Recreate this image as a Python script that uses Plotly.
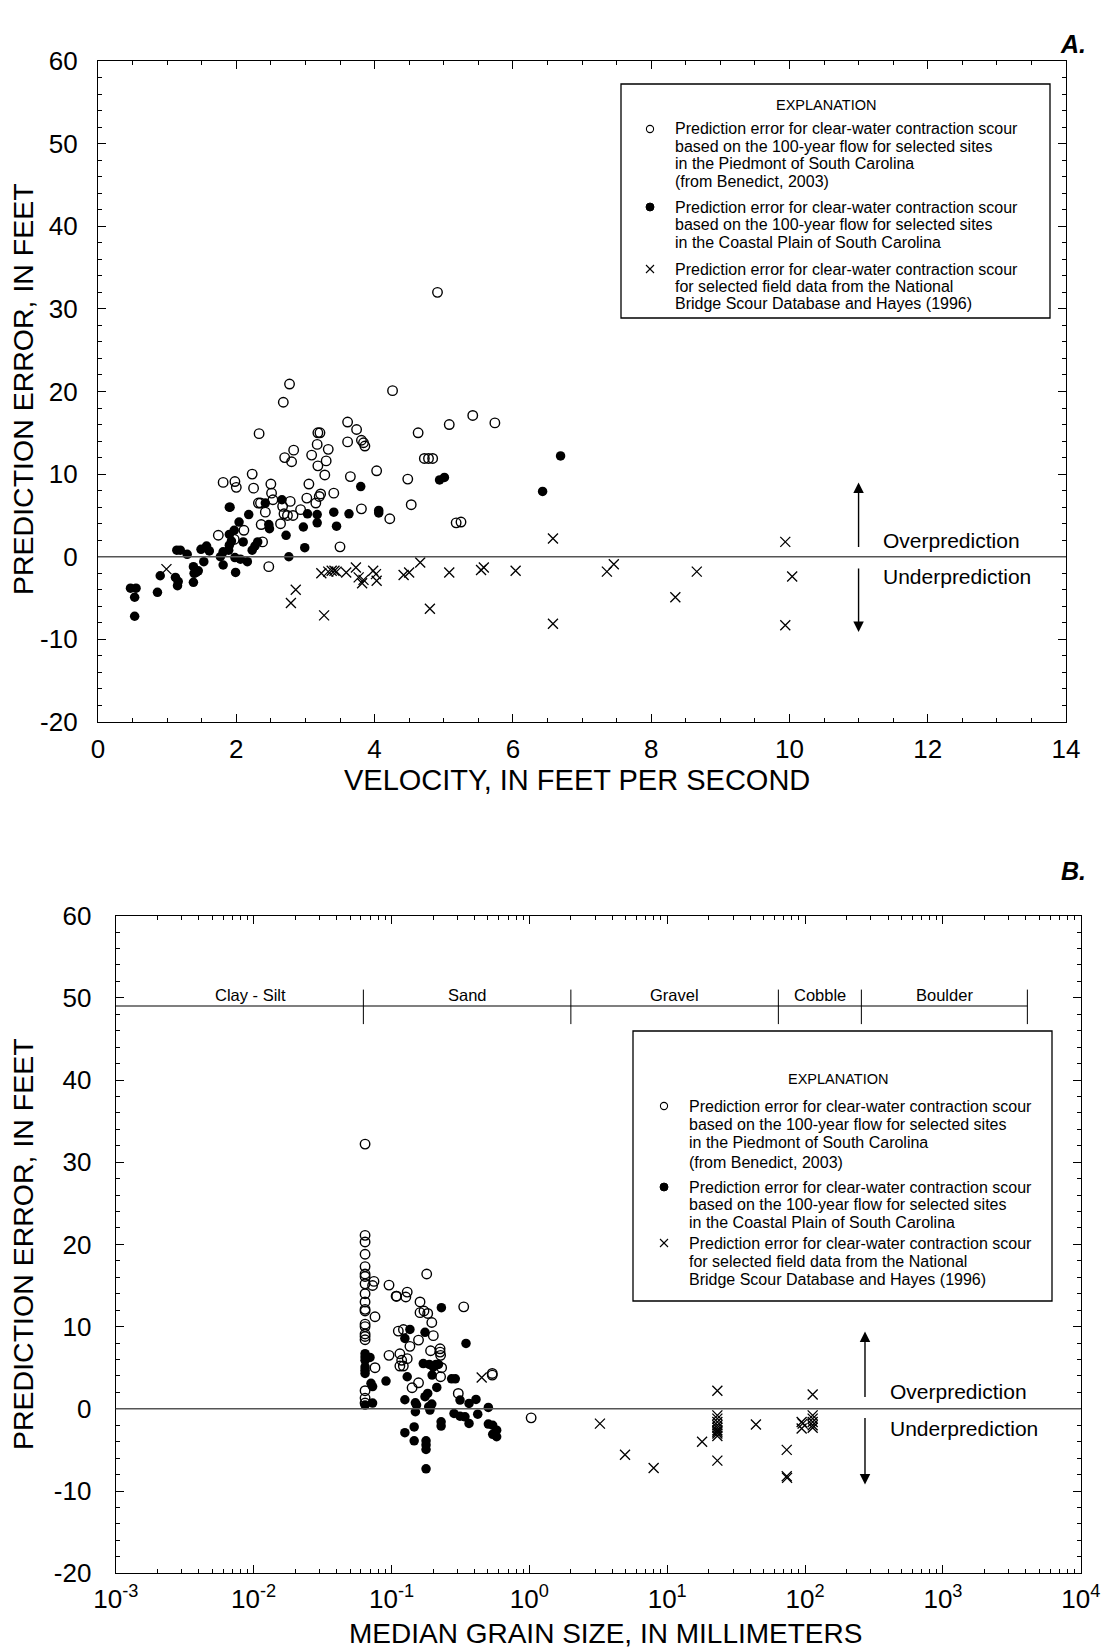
import math
import plotly.graph_objects as go

W, H = 1104, 1650
FONT = "Liberation Sans, Arial, Helvetica, sans-serif"

# ---------------- Panel A data (velocity, ft/s ; prediction error, ft) ----------------
pied_vel = [2.77, 2.68, 4.26, 2.33, 3.61, 3.74, 3.18, 3.21, 3.61, 3.81, 3.86, 3.84, 4.63,
            4.72, 4.78, 4.84, 2.83, 2.70, 2.80, 3.17, 3.33, 3.09, 3.30, 3.18, 3.28, 4.03,
            3.65, 4.48, 4.53, 2.23, 1.81, 1.98, 2.00, 2.25, 2.50, 3.05, 2.51, 2.53, 2.32,
            2.35, 2.78, 2.67, 2.42, 2.69, 2.74, 2.82, 2.93, 3.02, 3.15, 3.20, 3.22, 3.41,
            3.81, 4.22, 3.50, 2.36, 2.64, 1.74, 2.11, 1.97, 2.38, 2.47,
            4.91, 5.08, 5.42, 5.74, 5.18, 5.25]
pied_err_a = [20.9, 18.7, 20.1, 14.9, 16.3, 15.4, 15.0, 15.0, 13.9, 14.1, 13.4, 13.8, 15.0,
              11.9, 11.9, 11.9, 12.9, 12.0, 11.5, 13.6, 13.0, 12.3, 11.6, 11.0, 9.9, 10.4,
              9.7, 9.4, 6.3, 10.0, 9.0, 9.1, 8.4, 8.3, 8.8, 8.8, 7.7, 6.9, 6.5,
              6.5, 6.7, 6.1, 5.4, 5.2, 5.0, 5.0, 5.7, 7.1, 6.5, 7.3, 7.6, 7.7,
              5.8, 4.6, 1.2, 3.9, 4.0, 2.6, 3.2, 2.1, 1.8, -1.2,
              32.0, 16.0, 17.1, 16.2, 4.1, 4.2]

coast_vel = [0.47, 0.55, 0.53, 0.53, 0.86, 0.90, 1.12, 1.16, 1.15, 1.14, 1.19, 1.29, 1.38,
             1.42, 1.45, 1.39, 1.38, 1.53, 1.49, 1.57, 1.61, 1.77, 1.81, 1.81, 1.89, 1.90,
             1.93, 1.99, 1.98, 2.06, 2.16, 1.90, 1.91, 1.90, 1.97, 2.04, 2.10, 2.18, 2.23,
             2.27, 2.31, 2.42, 2.47, 2.48, 2.66, 2.72, 2.76, 2.97, 2.99, 3.03, 3.17, 3.17,
             3.41, 3.45, 3.63, 3.80, 4.06, 4.06, 4.94, 5.01, 6.43, 6.69]
coast_err_a = [-3.8, -3.8, -4.9, -7.2, -4.3, -2.3, -2.5, -3.0, -3.5, 0.8, 0.8, 0.3, -1.2,
               -1.9, -1.7, -2.0, -3.1, -0.6, 0.9, 1.3, 0.7, 0.0, -1.0, 0.6, 0.8, 1.4,
               1.9, -1.9, -0.1, -0.3, -0.6, 6.0, 6.0, 2.7, 3.2, 4.2, 1.8, 5.1, 0.8,
               1.3, 1.8, 6.5, 3.9, 3.4, 6.9, 2.6, 0.0, 3.6, 1.1, 5.2, 5.1, 4.1,
               5.4, 3.7, 5.2, 8.5, 5.6, 5.3, 9.3, 9.6, 7.9, 12.2]

nbs_vel = [0.99, 2.86, 2.79, 3.27, 3.23, 3.33, 3.38, 3.42, 3.45, 3.59, 3.73, 3.77, 3.84,
           3.82, 3.98, 4.02, 4.03, 4.42, 4.50, 4.66, 4.80, 5.08, 5.54, 5.58, 6.04, 6.58,
           6.58, 7.36, 7.46, 8.35, 8.66, 9.94, 10.04, 9.94]
nbs_err_a = [-1.5, -4.0, -5.6, -7.1, -2.0, -1.8, -1.7, -1.7, -1.8, -1.9, -1.3, -2.5, -2.8,
             -3.2, -1.7, -2.1, -2.9, -2.2, -1.9, -0.7, -6.3, -1.9, -1.6, -1.3, -1.7, 2.2,
             -8.1, -1.8, -0.9, -4.9, -1.8, 1.8, -2.4, -8.3]

# ---------------- Panel B data (median grain size, mm ; prediction error, ft) ----------------
pied_d50 = [0.0643] * 20 + [
    0.0746, 0.0729, 0.0759, 0.0759, 0.0959, 0.108, 0.109, 0.127, 0.130, 0.161, 0.180,
    0.161, 0.172, 0.183, 0.196, 0.201, 0.112, 0.122, 0.157, 0.136, 0.192, 0.225, 0.225,
    0.227, 0.115, 0.0959, 0.130, 0.1185, 0.1218, 0.115, 0.231, 0.227, 0.141, 0.157,
    0.305, 0.334, 0.538, 0.538, 1.03]
pied_err_b = [32.2, 21.1, 20.3, 18.8, 17.3, 16.4, 16.1, 15.2, 14.0, 13.0, 12.1, 11.9, 10.3,
              10.0, 9.1, 8.8, 8.4, 2.2, 1.3, 0.7,
              15.5, 15.0, 11.2, 5.0, 15.05, 13.7, 13.7, 13.6, 14.2, 13.0, 16.4,
              11.7, 11.9, 11.6, 10.5, 8.9, 9.45, 9.65, 8.36, 7.6, 7.06, 7.3, 6.9,
              6.5, 6.7, 6.5, 6.1, 5.9, 5.2, 5.2, 5.0, 3.9, 2.56, 3.16,
              1.87, 12.4, 4.3, 4.1, -1.1]

coast_d50 = [0.0643] * 7 + [0.0698, 0.071, 0.0729, 0.0729,
             0.230, 0.136, 0.125, 0.175, 0.347, 0.170, 0.188, 0.210, 0.201, 0.219, 0.197,
             0.130, 0.0912, 0.213, 0.183, 0.175, 0.125, 0.149, 0.152, 0.186, 0.196, 0.190,
             0.149, 0.273, 0.290, 0.314, 0.365, 0.410, 0.504, 0.284, 0.314, 0.341, 0.365,
             0.422, 0.229, 0.229, 0.504, 0.542, 0.579, 0.542, 0.579, 0.146, 0.125, 0.146,
             0.178, 0.178, 0.178, 0.178]
coast_err_b = [6.7, 6.3, 5.9, 5.1, 4.7, 4.3, 0.45, 6.25, 3.1, 2.7, 0.7,
               12.3, 9.65, 8.56, 9.3, 7.95, 5.5, 5.4, 5.4, 5.1, 5.4, 4.1,
               3.9, 3.37, 2.6, 1.87, 1.47, 1.1, 0.73, 0.45, 0.25, 0.57, -0.16,
               -0.36, 3.65, 3.65, 1.06, 0.65, 1.14, 0.17, -0.57, -0.9, -0.97, -1.78,
               -0.65, -1.58, -2.1, -1.86, -2.0, -2.6, -3.1, -3.4, -2.2, -2.9, -3.9,
               -3.9, -4.4, -4.95, -7.3]

nbs_d50 = [0.451, 3.25, 4.94, 7.97, 17.9] + [23.1] * 11 + [44.0, 73.6, 73.6, 74.0,
           94.4, 96.0, 94.4] + [113.5] * 6
nbs_err_b = [3.8, -1.8, -5.6, -7.2, -4.0,
             2.2, -0.8, -1.2, -1.6, -2.0, -2.3, -2.6, -2.8, -3.0, -3.3, -6.3,
             -1.9, -5.0, -8.2, -8.4, -1.6, -1.8, -2.4,
             1.75, -0.8, -1.2, -1.6, -2.0, -2.3]

# grain-size classes (mm)
class_edges = [0.001, 0.0625, 2, 64, 256, 4096]
class_names = ["Clay - Silt", "Sand", "Gravel", "Cobble", "Boulder"]
class_line_level = 49

legend_lines = [
    ["Prediction error for clear-water contraction scour",
     "based on the 100-year flow for selected sites",
     "in the Piedmont of South Carolina",
     "(from Benedict, 2003)"],
    ["Prediction error for clear-water contraction scour",
     "based on the 100-year flow for selected sites",
     "in the Coastal Plain of South Carolina"],
    ["Prediction error for clear-water contraction scour",
     "for selected field data from the National",
     "Bridge Scour Database and Hayes (1996)"],
]

y_ticks = [-20, -10, 0, 10, 20, 30, 40, 50, 60]
vel_ticks = [0, 2, 4, 6, 8, 10, 12, 14]
d50_ticks_exp = [-3, -2, -1, 0, 1, 2, 3, 4]


def PX(x):
    return x / W


def PY(y):
    return 1 - y / H


fig = go.Figure()

open_m = dict(symbol="circle-open", size=9.5, color="black", line=dict(width=1.4, color="black"))
fill_m = dict(symbol="circle", size=9.5, color="black", line=dict(width=0))
x_m = dict(symbol="x-thin-open", size=10, color="black", line=dict(width=1.3, color="black"))

fig.add_trace(go.Scatter(x=pied_vel, y=pied_err_a, mode="markers", marker=open_m,
                         xaxis="x", yaxis="y", showlegend=False))
fig.add_trace(go.Scatter(x=coast_vel, y=coast_err_a, mode="markers", marker=fill_m,
                         xaxis="x", yaxis="y", showlegend=False))
fig.add_trace(go.Scatter(x=nbs_vel, y=nbs_err_a, mode="markers", marker=x_m,
                         xaxis="x", yaxis="y", showlegend=False))

fig.add_trace(go.Scatter(x=pied_d50, y=pied_err_b, mode="markers", marker=open_m,
                         xaxis="x2", yaxis="y2", showlegend=False))
fig.add_trace(go.Scatter(x=coast_d50, y=coast_err_b, mode="markers", marker=fill_m,
                         xaxis="x2", yaxis="y2", showlegend=False))
fig.add_trace(go.Scatter(x=nbs_d50, y=nbs_err_b, mode="markers", marker=x_m,
                         xaxis="x2", yaxis="y2", showlegend=False))

tickfont = dict(family=FONT, size=26, color="black")
common = dict(showline=True, linecolor="black", linewidth=1.3, mirror="allticks",
              ticks="inside", ticklen=8, tickwidth=1.2, tickcolor="black",
              showgrid=False, zeroline=False, tickfont=tickfont, automargin=False)

yax = dict(range=[-20, 60], tickmode="array", tickvals=y_ticks,
           ticktext=[str(v) for v in y_ticks],
           minor=dict(tickmode="linear", tick0=0, dtick=2, ticks="inside", ticklen=4,
                      tickwidth=1, tickcolor="black"),
           **common)

minor_log = [m * 10 ** e for e in range(-3, 4) for m in range(2, 10)]

fig.update_layout(
    width=W, height=H, margin=dict(l=0, r=0, t=0, b=0, pad=0), autosize=False,
    plot_bgcolor="white", paper_bgcolor="white",
    font=dict(family=FONT, color="black"),
    xaxis=dict(domain=[PX(98), PX(1066)], anchor="y", range=[0, 14],
               tickmode="array", tickvals=vel_ticks, ticktext=[str(v) for v in vel_ticks],
               minor=dict(tickmode="linear", tick0=0, dtick=0.5, ticks="inside", ticklen=4,
                          tickwidth=1, tickcolor="black"),
               ticklabelstandoff=4, **common),
    yaxis=dict(domain=[PY(722), PY(61)], anchor="x", ticklabelstandoff=14, **yax),
    xaxis2=dict(domain=[PX(115.8), PX(1080.8)], anchor="y2", type="log", range=[-3, 4],
                tickmode="array", tickvals=[10 ** e for e in d50_ticks_exp],
                ticktext=["10<sup>%d</sup>" % e for e in d50_ticks_exp],
                minor=dict(tickmode="array", tickvals=minor_log, ticks="inside", ticklen=4,
                           tickwidth=1, tickcolor="black"),
                ticklabelstandoff=2, **common),
    yaxis2=dict(domain=[PY(1573.2), PY(915.6)], anchor="x2", ticklabelstandoff=18, **yax),
)

shapes = []
ann = []

# zero lines
for xr, yr in (("x domain", "y"), ("x2 domain", "y2")):
    shapes.append(dict(type="line", xref=xr, yref=yr, x0=0, x1=1, y0=0, y1=0,
                       line=dict(color="#555555", width=1.5)))

# grain-size class bar (panel B) -- shapes take raw values on log axes
shapes.append(dict(type="line", xref="x2", yref="y2", x0=class_edges[0], x1=class_edges[-1],
                   y0=class_line_level, y1=class_line_level, line=dict(color="black", width=1.2)))
for v in class_edges[1:]:
    shapes.append(dict(type="line", xref="x2", yref="y2", x0=v, x1=v,
                       y0=class_line_level - 2.2, y1=class_line_level + 2.0,
                       line=dict(color="black", width=1)))
le = [math.log10(v) for v in class_edges]
for i, name in enumerate(class_names):
    ann.append(dict(xref="x2", yref="y2", x=(le[i] + le[i + 1]) / 2 + (0.08 if i == 0 else 0),
                    y=class_line_level + 1.3, text=name, showarrow=False,
                    font=dict(family=FONT, size=16.5), yanchor="middle"))


# over / under prediction arrows + text
def arrows(xref, yref, xpos, up_head, dn_head, ulen, dlen, txt_x, over_y, under_y):
    ann.append(dict(xref=xref, yref=yref, x=xpos, y=up_head, ax=0, ay=ulen, text="",
                    showarrow=True, arrowhead=2, arrowsize=1.5, arrowwidth=1.4,
                    arrowcolor="black"))
    ann.append(dict(xref=xref, yref=yref, x=xpos, y=dn_head, ax=0, ay=-dlen, text="",
                    showarrow=True, arrowhead=2, arrowsize=1.5, arrowwidth=1.4,
                    arrowcolor="black"))
    ann.append(dict(xref=xref, yref=yref, x=txt_x, y=over_y, text="Overprediction",
                    showarrow=False, xanchor="left", yanchor="middle",
                    font=dict(family=FONT, size=21)))
    ann.append(dict(xref=xref, yref=yref, x=txt_x, y=under_y, text="Underprediction",
                    showarrow=False, xanchor="left", yanchor="middle",
                    font=dict(family=FONT, size=21)))


arrows("x", "y", 11.0, 9.0, -9.1, 66, 65, 11.33, 2.0, -2.4)
arrows("x2", "y2", math.log10(272), 9.4, -9.2, 67, 68, math.log10(400), 2.1, -2.35)


# legend boxes
def legend(box, expl_y, expl_x, text_x, mark_x, group_ys):
    x0, y0, x1, y1 = box
    shapes.append(dict(type="rect", xref="paper", yref="paper", x0=PX(x0), x1=PX(x1),
                       y0=PY(y1), y1=PY(y0), line=dict(color="black", width=1.3),
                       fillcolor="white", layer="above"))
    ann.append(dict(xref="paper", yref="paper", x=PX(expl_x), y=PY(expl_y),
                    text="EXPLANATION", showarrow=False, xanchor="center", yanchor="middle",
                    font=dict(family=FONT, size=14.5)))
    for g, (lines, ys) in enumerate(zip(legend_lines, group_ys)):
        for t, yy in zip(lines, ys):
            ann.append(dict(xref="paper", yref="paper", x=PX(text_x), y=PY(yy), text=t,
                            showarrow=False, xanchor="left", yanchor="middle",
                            font=dict(family=FONT, size=16)))
        my = ys[0]
        r = 3.6
        if g == 0:
            shapes.append(dict(type="circle", xref="paper", yref="paper", xsizemode="pixel",
                               ysizemode="pixel", xanchor=PX(mark_x), yanchor=PY(my),
                               x0=-r, x1=r, y0=-r, y1=r, line=dict(color="black", width=1.1)))
        elif g == 1:
            shapes.append(dict(type="circle", xref="paper", yref="paper", xsizemode="pixel",
                               ysizemode="pixel", xanchor=PX(mark_x), yanchor=PY(my),
                               x0=-4, x1=4, y0=-4, y1=4, fillcolor="black",
                               line=dict(color="black", width=1)))
        else:
            for s in (1, -1):
                shapes.append(dict(type="line", xref="paper", yref="paper", xsizemode="pixel",
                                   ysizemode="pixel", xanchor=PX(mark_x), yanchor=PY(my),
                                   x0=-4, x1=4, y0=-4 * s, y1=4 * s,
                                   line=dict(color="black", width=1.1)))


legend((621, 84, 1050, 318), 105, 826, 673, 650,
       [[129, 146.5, 164, 181.5], [207, 224.5, 242], [269, 286.5, 304]])
legend((633, 1031, 1052, 1301), 1079, 838, 687, 664,
       [[1106, 1124, 1142, 1162], [1187, 1204, 1222], [1243, 1261, 1279]])

# axis titles
title_font = dict(family=FONT, size=29)
ann.append(dict(xref="paper", yref="paper", x=PX(577), y=PY(780), text="VELOCITY, IN FEET PER SECOND",
                showarrow=False, font=title_font, xanchor="center", yanchor="middle"))
ann.append(dict(xref="paper", yref="paper", x=PX(605), y=PY(1633), text="MEDIAN GRAIN SIZE, IN MILLIMETERS",
                showarrow=False, font=dict(family=FONT, size=28), xanchor="center", yanchor="middle"))
for yc in (389, 1244):
    ann.append(dict(xref="paper", yref="paper", x=PX(23), y=PY(yc), text="PREDICTION ERROR, IN FEET",
                    showarrow=False, font=dict(family=FONT, size=28.5), textangle=-90,
                    xanchor="center", yanchor="middle"))

# panel letters
for lab, yc in (("A.", 44), ("B.", 871)):
    ann.append(dict(xref="paper", yref="paper", x=PX(1073), y=PY(yc), text="<b><i>%s</i></b>" % lab,
                    showarrow=False, font=dict(family=FONT, size=25), xanchor="center", yanchor="middle"))

fig.update_layout(shapes=shapes, annotations=ann)
fig.write_html("out.html", config={"displayModeBar": False},
               post_script="document.body.style.margin='0';document.body.style.padding='0';"
                           "document.documentElement.style.margin='0';")
